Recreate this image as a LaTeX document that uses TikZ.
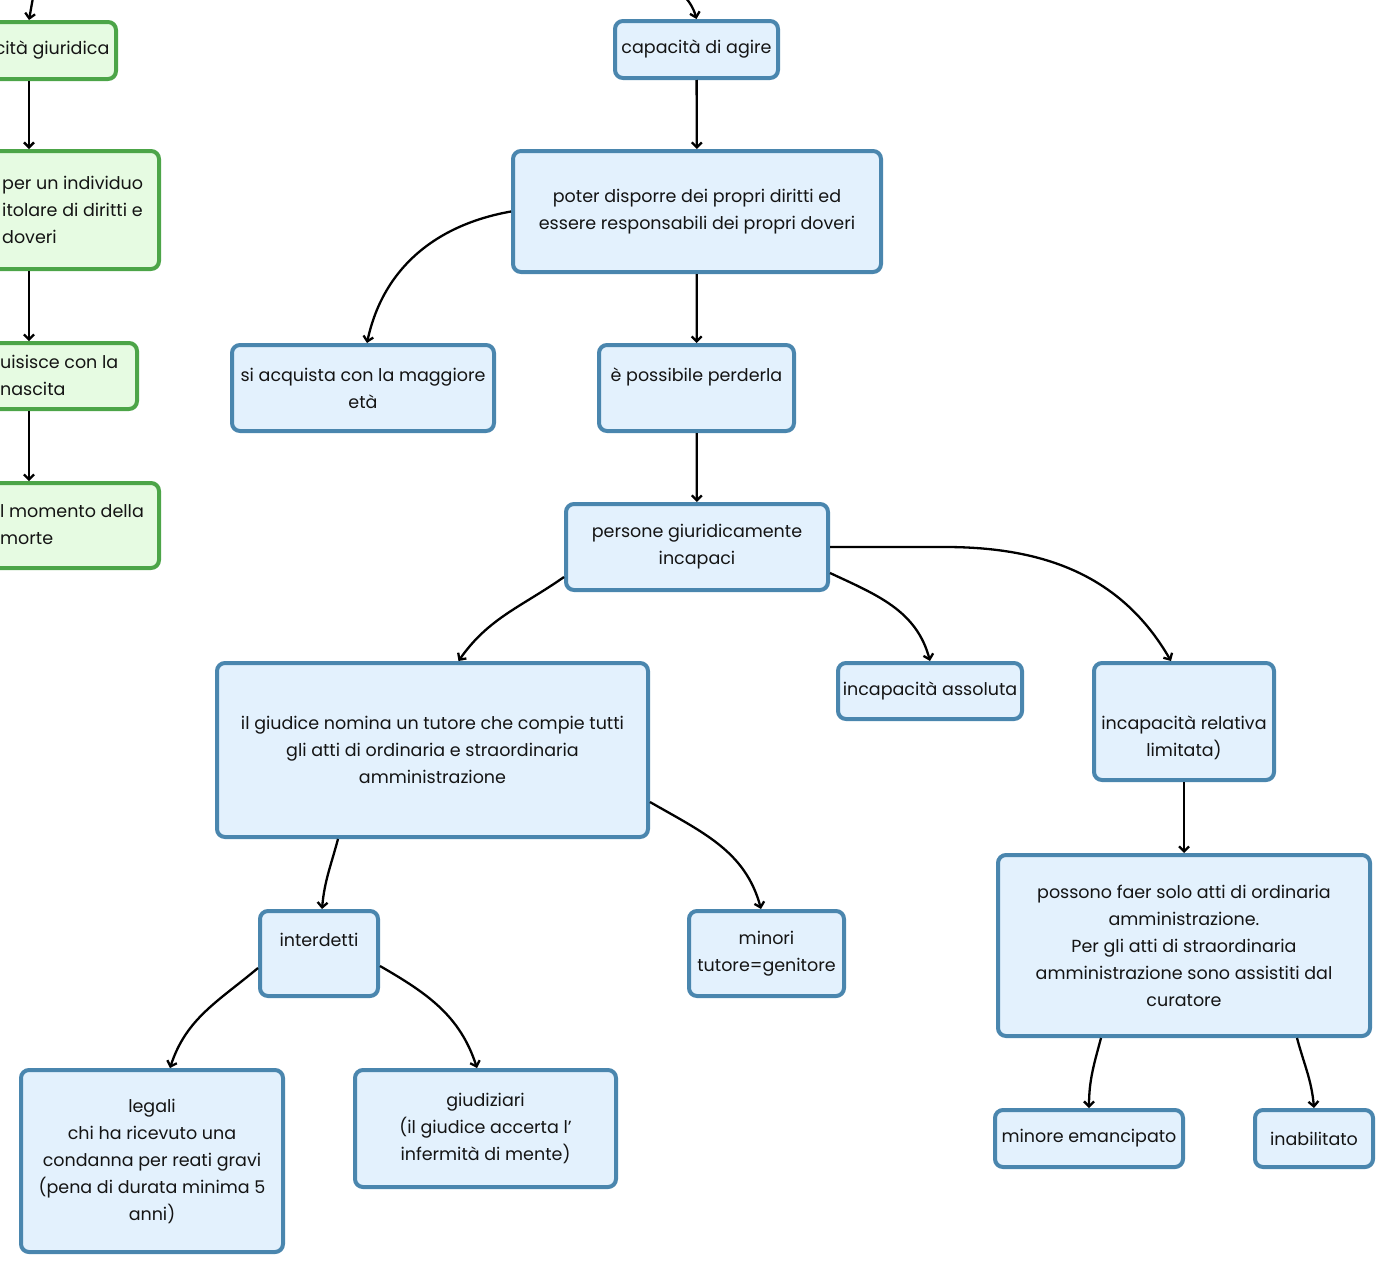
\documentclass[tikz,border=0pt]{standalone}
\usepackage{fontspec}
\setmainfont{Poppins}
\usepackage{tikz}
\usetikzlibrary{arrows.meta}

\definecolor{bluline}{HTML}{4A86AE}
\definecolor{blufill}{HTML}{E3F1FD}
\definecolor{grnline}{HTML}{4CA548}
\definecolor{grnfill}{HTML}{E6FBE2}
\definecolor{ink}{HTML}{141414}

\tikzset{
	box/.style={rectangle, rounded corners=8bp, line width=4bp, align=center,
		inner sep=0bp, text=ink, font=\fontsize{17.5bp}{27bp}\selectfont},
	blubox/.style={box, draw=bluline, fill=blufill},
	grnbox/.style={box, draw=grnline, fill=grnfill},
	frag/.style={anchor=west, align=left, inner sep=0bp, text=ink,
		font=\fontsize{17.5bp}{27bp}\selectfont},
	link/.style={->, line width=2.3bp, black}
}

\begin{document}
\begin{tikzpicture}[>={Straight Barb[length=5bp,width=10bp]}]
	\clip (0bp,0bp) rectangle (1395bp,-1275bp);

	% left column
	\coordinate (rootg) at (37bp,25bp);
	\node (g1) at (29bp,-50.5bp)  [grnbox, minimum width=174bp, minimum height=57bp]  {capacità giuridica};
	\node (g2) at (29bp,-210bp)   [grnbox, minimum width=260bp, minimum height=118bp] {};
	\node (g3) at (29bp,-376bp)   [grnbox, minimum width=216bp, minimum height=66bp]  {};
	\node (g4) at (29bp,-525.5bp) [grnbox, minimum width=260bp, minimum height=85bp]  {};
	\node (g2t) at (2bp,-210bp)   [frag] {per un individuo\\itolare di diritti e\\doveri};
	\node (g3t) at (0bp,-375.5bp) [frag] {uisisce con la\\nascita};
	\node (g4t) at (0bp,-524.5bp) [frag] {l momento della\\morte};

	% capacita di agire
	\coordinate (rootb) at (668bp,20bp);
	\node (b1)  at (696.5bp,-49.5bp)  [blubox, minimum width=163bp, minimum height=57bp]  {capacità di agire};
	\node (b2)  at (697bp,-211.5bp)   [blubox, minimum width=368bp, minimum height=121bp] {poter disporre dei propri diritti ed\\essere responsabili dei propri doveri};
	\node (b3)  at (363bp,-388bp)     [blubox, minimum width=262bp, minimum height=86bp]  {si acquista con la maggiore\\età};
	\node (b4)  at (696.5bp,-388bp)   [blubox, minimum width=195bp, minimum height=86bp]  {è possibile perderla\\\mbox{}};
	\node (b5)  at (697bp,-547bp)     [blubox, minimum width=262bp, minimum height=86bp]  {persone giuridicamente\\incapaci};
	\node (b6)  at (432.5bp,-750bp)   [blubox, minimum width=431bp, minimum height=174bp] {il giudice nomina un tutore che compie tutti\\gli atti di ordinaria e straordinaria\\amministrazione};
	\node (b7)  at (930bp,-691bp)     [blubox, minimum width=184bp, minimum height=56bp]  {incapacità assoluta};
	\node (b8)  at (1184bp,-721.5bp)  [blubox, minimum width=180bp, minimum height=117bp] {\strut\\incapacità relativa\\limitata)};
	\node (b9)  at (1184bp,-945.5bp)  [blubox, minimum width=372bp, minimum height=181bp] {possono faer solo atti di ordinaria\\amministrazione.\\Per gli atti di straordinaria\\amministrazione sono assistiti dal\\curatore};
	\node (b10) at (1089bp,-1138.5bp) [blubox, minimum width=188bp, minimum height=57bp]  {minore emancipato};
	\node (b11) at (1314bp,-1138.5bp) [blubox, minimum width=118bp, minimum height=57bp]  {inabilitato};
	\node (b12) at (319bp,-953.5bp)   [blubox, minimum width=118bp, minimum height=85bp]  {interdetti\\\mbox{}};
	\node (b13) at (766.5bp,-953.5bp) [blubox, minimum width=155bp, minimum height=85bp]  {minori\\tutore=genitore};
	\node (b14) at (152bp,-1161bp)    [blubox, minimum width=262bp, minimum height=182bp] {legali\\chi ha ricevuto una\\condanna per reati gravi\\(pena di durata minima 5\\anni)};
	\node (b15) at (485.5bp,-1128.5bp)[blubox, minimum width=261bp, minimum height=117bp] {giudiziari\\(il giudice accerta l'\\infermità di mente)};

	\draw [link] (rootg) -- (g1.north);
	\draw [link] (g1) -- (g2);
	\draw [link] (g2) -- (g3);
	\draw [link] (g3) -- (g4);

	\draw [link] (rootb) to[out=-45,in=105] (b1.north);
	\draw [link] (b1) -- (b2);
	\draw [link] (b2.west) to[out=190,in=78] ([xshift=4bp]b3.north);
	\draw [link] (b2) -- (b4);
	\draw [link] (b4) -- (b5);
	\draw [link] ([yshift=-30bp]b5.west) to[out=215,in=55] ([xshift=26bp]b6.north);
	\draw [link] ([yshift=-26bp]b5.east) to[out=-25,in=105] (b7.north);
	\draw [link] (b5.east) -- ++(115bp,0bp) to[out=0,in=120] ([xshift=-13bp]b8.north);
	\draw [link] (b8) -- (b9);
	\draw [link] ([xshift=-83bp]b9.south) to[out=255,in=90] (b10.north);
	\draw [link] ([xshift=113bp]b9.south) to[out=285,in=95] (b11.north);
	\draw [link] ([xshift=-94.5bp]b6.south) to[out=255,in=85] ([xshift=3bp]b12.north);
	\draw [link] ([yshift=-52bp]b6.east) to[out=-30,in=105] ([xshift=-5.5bp]b13.north);
	\draw [link] ([yshift=-14.5bp]b12.west) to[out=220,in=72] ([xshift=18bp]b14.north);
	\draw [link] ([yshift=-12.5bp]b12.east) to[out=-30,in=108] ([xshift=-8.5bp]b15.north);
\end{tikzpicture}
\end{document}
